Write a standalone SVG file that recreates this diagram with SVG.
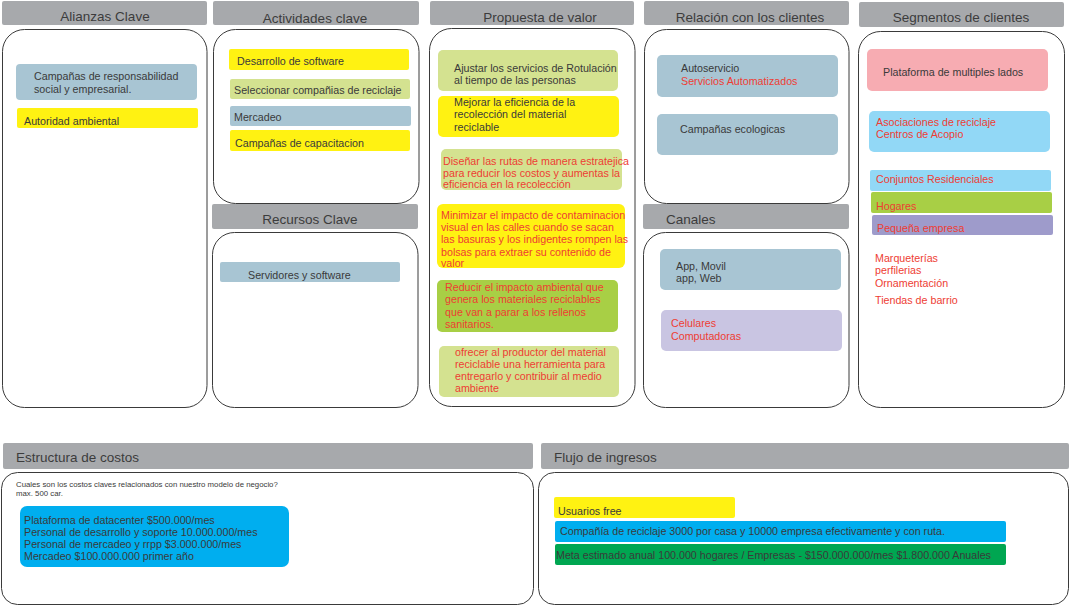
<svg xmlns="http://www.w3.org/2000/svg" width="1070" height="606" viewBox="0 0 1070 606">
<style>
text{font-family:"Liberation Sans",Arial,sans-serif;fill:#3a3a3a;font-size:10.7px}
.hdr{fill:#a7a9ac}
.ht{font-size:13.5px;fill:#3c3c3c}
.pnl{fill:#fff;stroke:#3a3a3a;stroke-width:1}
.red{fill:#ee3d33}
.bg{fill:#a8c5d3}
.lg{fill:#d4e290}
.yl{fill:#fff212}
.gr{fill:#a8cf45}
.pk{fill:#f7acb2}
.sk{fill:#92d8f6}
.pu{fill:#9e9bcb}
.lv{fill:#c9c5e2}
.cy{fill:#00aeef}
.dg{fill:#00a651}
.sm{font-size:7.8px}
</style>
<rect width="1070" height="606" fill="#fff"/>
<g id="alianzas">
<rect class="hdr" x="2" y="1" width="205" height="24" rx="2"/>
<text class="ht" x="105" y="21" text-anchor="middle">Alianzas Clave</text>
<rect class="pnl" x="2.5" y="29.5" width="204.5" height="378" rx="22"/>
<g id="al-1"><rect class="bg" x="16" y="64" width="181" height="36" rx="4"/><text x="34" y="80">Campañas de responsabilidad</text><text x="34" y="93">social y empresarial.</text></g>
<g id="al-2"><rect class="yl" x="17" y="108" width="181" height="20" rx="2"/><text x="24" y="125">Autoridad ambiental</text></g>
</g>
<g id="actividades">
<rect class="hdr" x="213" y="1" width="206" height="24" rx="2"/>
<text class="ht" x="315" y="23" text-anchor="middle">Actividades clave</text>
<rect class="pnl" x="213.5" y="29.5" width="205.5" height="174" rx="22"/>
<g id="ac-1"><rect class="yl" x="229" y="49" width="180" height="21" rx="2"/><text x="237" y="65">Desarrollo de software</text></g>
<g id="ac-2"><rect class="lg" x="230" y="79" width="180" height="20" rx="2"/><text x="234" y="94">Seleccionar compañias de reciclaje</text></g>
<g id="ac-3"><rect class="bg" x="230" y="106" width="181" height="20" rx="2"/><text x="234" y="121">Mercadeo</text></g>
<g id="ac-4"><rect class="yl" x="230" y="130" width="180" height="21" rx="2"/><text x="235" y="147">Campañas de capacitacion</text></g>
</g>
<g id="recursos">
<rect class="hdr" x="212" y="204" width="206" height="25" rx="2"/>
<text class="ht" x="310" y="224" text-anchor="middle">Recursos Clave</text>
<rect class="pnl" x="212.5" y="232.5" width="205.5" height="175" rx="22"/>
<g id="re-1"><rect class="bg" x="220" y="262" width="180" height="20" rx="2"/><text x="248" y="279">Servidores y software</text></g>
</g>
<g id="propuesta">
<rect class="hdr" x="430" y="1" width="204" height="24" rx="2"/>
<text class="ht" x="540" y="22" text-anchor="middle">Propuesta de valor</text>
<rect class="pnl" x="429.5" y="28.5" width="205.5" height="378" rx="22"/>
<g id="pv-1"><rect class="lg" x="438" y="50" width="180" height="41" rx="5"/><text x="454" y="72">Ajustar los servicios de Rotulación</text><text x="454" y="84">al tiempo de las personas</text></g>
<g id="pv-2"><rect class="yl" x="438" y="96" width="181" height="41" rx="5"/><text x="454" y="106">Mejorar la eficiencia de la</text><text x="454" y="118">recolección del material</text><text x="454" y="131">reciclable</text></g>
<g id="pv-3"><rect class="lg" x="441" y="149" width="181" height="41" rx="5"/><text class="red" x="443" y="165">Diseñar las rutas de manera estratejica</text><text class="red" x="443" y="177">para reducir los costos y aumentas la</text><text class="red" x="443" y="188">eficiencia en la recolección</text></g>
<g id="pv-4"><rect class="yl" x="437" y="204" width="188" height="64" rx="6"/><text class="red" x="441" y="219">Minimizar el impacto de contaminacion</text><text class="red" x="441" y="231">visual en las calles cuando se sacan</text><text class="red" x="441" y="243">las basuras y los indigentes rompen las</text><text class="red" x="441" y="256">bolsas para extraer su contenido de</text><text class="red" x="441" y="267">valor</text></g>
<g id="pv-5"><rect class="gr" x="437" y="280" width="181" height="52" rx="5"/><text class="red" x="445" y="291">Reducir el impacto ambiental que</text><text class="red" x="445" y="303">genera los materiales reciclables</text><text class="red" x="445" y="316">que van a parar a los rellenos</text><text class="red" x="445" y="328">sanitarios.</text></g>
<g id="pv-6"><rect class="lg" x="439" y="346" width="180" height="51" rx="5"/><text class="red" x="455" y="356">ofrecer al productor del material</text><text class="red" x="455" y="368">reciclable una herramienta para</text><text class="red" x="455" y="380">entregarlo y contribuir al medio</text><text class="red" x="455" y="392">ambiente</text></g>
</g>
<g id="relacion">
<rect class="hdr" x="644" y="1" width="205" height="24" rx="2"/>
<text class="ht" x="750" y="22" text-anchor="middle">Relación con los clientes</text>
<rect class="pnl" x="644.5" y="29.5" width="204.5" height="174" rx="22"/>
<g id="rc-1"><rect class="bg" x="657" y="55" width="181" height="42" rx="5"/><text x="681" y="72">Autoservicio</text><text class="red" x="681" y="85">Servicios Automatizados</text></g>
<g id="rc-2"><rect class="bg" x="657" y="114" width="181" height="41" rx="5"/><text x="680" y="133">Campañas ecologicas</text></g>
</g>
<g id="canales">
<rect class="hdr" x="643" y="204" width="206" height="25" rx="2"/>
<text class="ht" x="666" y="224">Canales</text>
<rect class="pnl" x="643.5" y="232.5" width="205.5" height="175" rx="22"/>
<g id="ca-1"><rect class="bg" x="660" y="249" width="181" height="41" rx="5"/><text x="676" y="270">App, Movil</text><text x="676" y="282">app, Web</text></g>
<g id="ca-2"><rect class="lv" x="661" y="310" width="181" height="41" rx="5"/><text class="red" x="671" y="327">Celulares</text><text class="red" x="671" y="340">Computadoras</text></g>
</g>
<g id="segmentos">
<rect class="hdr" x="859" y="2" width="205" height="25" rx="2"/>
<text class="ht" x="961" y="22" text-anchor="middle">Segmentos de clientes</text>
<rect class="pnl" x="858.5" y="31.5" width="206" height="376" rx="22"/>
<g id="sg-1"><rect class="pk" x="867" y="49" width="181" height="42" rx="5"/><text x="883" y="76">Plataforma de multiples lados</text></g>
<g id="sg-2"><rect class="sk" x="869" y="111" width="181" height="41" rx="5"/><text class="red" x="876" y="126">Asociaciones de reciclaje</text><text class="red" x="876" y="138">Centros de Acopio</text></g>
<g id="sg-3"><rect class="sk" x="870" y="170" width="181" height="21" rx="2"/><text class="red" x="876" y="183">Conjuntos Residenciales</text></g>
<g id="sg-4"><rect class="gr" x="871" y="192" width="181" height="21" rx="2"/><text class="red" x="876" y="210">Hogares</text></g>
<g id="sg-5"><rect class="pu" x="872" y="215" width="181" height="20" rx="2"/><text class="red" x="877" y="232">Pequeña empresa</text></g>
<g id="sg-6"><text class="red" x="875" y="262">Marqueterías</text><text class="red" x="875" y="274">perfilerias</text><text class="red" x="875" y="287">Ornamentación</text><text class="red" x="875" y="304">Tiendas de barrio</text></g>
</g>
<g id="costos">
<rect class="hdr" x="3" y="443" width="530" height="26" rx="2"/>
<text class="ht" x="16" y="462">Estructura de costos</text>
<rect class="pnl" x="1.5" y="472.5" width="532" height="132" rx="16"/>
<text class="sm" x="16" y="487">Cuales son los costos claves relacionados con nuestro modelo de negocio?</text>
<text class="sm" x="16" y="496">max. 500 car.</text>
<g id="co-1"><rect class="cy" x="20" y="506" width="269" height="61" rx="7"/><text x="24" y="524">Plataforma de datacenter $500.000/mes</text><text x="24" y="536">Personal de desarrollo y soporte 10.000.000/mes</text><text x="24" y="548">Personal de mercadeo y rrpp $3.000.000/mes</text><text x="24" y="560">Mercadeo $100.000.000 primer año</text></g>
</g>
<g id="ingresos">
<rect class="hdr" x="541" y="443" width="528" height="26" rx="2"/>
<text class="ht" x="554" y="462">Flujo de ingresos</text>
<rect class="pnl" x="538.5" y="472.5" width="530" height="132" rx="16"/>
<g id="in-1"><rect class="yl" x="554" y="497" width="181" height="21" rx="2"/><text x="558" y="515">Usuarios free</text></g>
<g id="in-2"><rect class="cy" x="555" y="521" width="451" height="21" rx="2"/><text x="560" y="535">Compañía de reciclaje 3000 por casa y 10000 empresa efectivamente y con ruta.</text></g>
<g id="in-3"><rect class="dg" x="555" y="544" width="451" height="21" rx="2"/><text x="556" y="559">Meta estimado anual 100.000 hogares / Empresas - $150.000.000/mes $1.800.000 Anuales</text></g>
</g>
<g id="connectors"/>
</svg>
